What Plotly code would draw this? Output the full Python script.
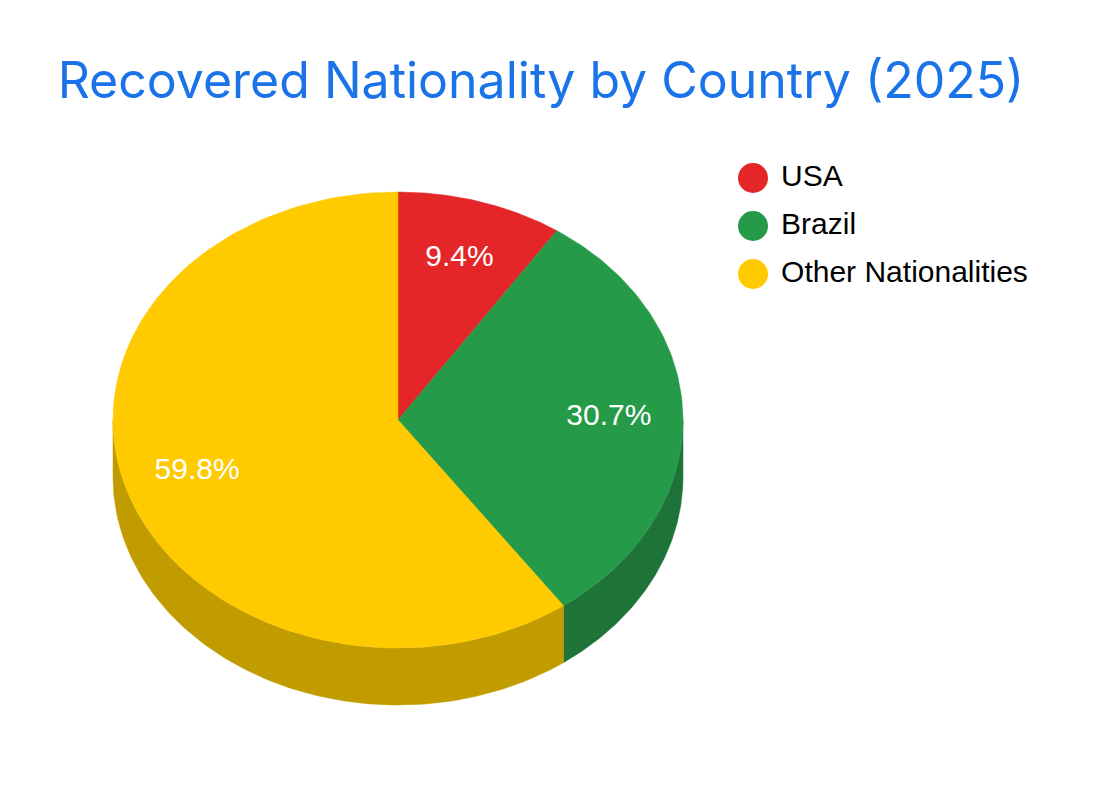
import numpy as np
import plotly.graph_objects as go

# data
countries = ['USA', 'Brazil', 'Other Nationalities']
shares = [9.4, 30.7, 59.8]
top_colors = ['#E52629', '#259A49', '#FFCB00']
side_colors = ['#A81C1E', '#1E7438', '#C19C00']

W, H = 1106, 788
OFF = 8                # page body margin, so axis units equal page pixels
cx, cy = 398, 420      # centre of the top face (px)
rx, ry = 285, 228      # ellipse radii
depth = 57             # thickness of the pie


def ellipse_pts(a0, a1, dy=0, n=120):
    # angles in degrees, clockwise from 12 o'clock
    t = np.radians(np.linspace(a0, a1, n))
    return cx + rx * np.sin(t), cy - ry * np.cos(t) + dy


fig = go.Figure()

total = sum(shares)
bounds = np.concatenate([[0], np.cumsum(shares) / total * 360])

# side walls (only the front half, 90..270 deg, is visible)
for i, c in enumerate(countries):
    a0, a1 = max(bounds[i], 90), min(bounds[i + 1], 270)
    if a1 <= a0:
        continue
    xt, yt = ellipse_pts(a0, a1)
    xb, yb = ellipse_pts(a1, a0, dy=depth)
    fig.add_trace(go.Scatter(
        x=np.concatenate([xt, xb, xt[:1]]), y=np.concatenate([yt, yb, yt[:1]]),
        fill='toself', fillcolor=side_colors[i], mode='lines',
        line=dict(width=0.5, color=side_colors[i]), hoverinfo='skip', showlegend=False))

# top faces
for i, c in enumerate(countries):
    xs, ys = ellipse_pts(bounds[i], bounds[i + 1])
    fig.add_trace(go.Scatter(
        x=np.concatenate([[cx], xs, [cx]]), y=np.concatenate([[cy], ys, [cy]]),
        fill='toself', fillcolor=top_colors[i], mode='lines',
        line=dict(width=0.5, color=top_colors[i]), name=c,
        hovertemplate=f'{c}: {shares[i]}%<extra></extra>', showlegend=False))

# slice labels
mid = (bounds[:-1] + bounds[1:]) / 2
lx = cx + 0.74 * rx * np.sin(np.radians(mid))
ly = cy - 0.74 * ry * np.cos(np.radians(mid))
fig.add_trace(go.Scatter(
    x=lx, y=ly, mode='text', text=[f'{s}%' for s in shares],
    textfont=dict(family='Liberation Sans, Arial', size=30, color='white'),
    hoverinfo='skip', showlegend=False))

# legend
leg_x, leg_y, leg_step = 753, 178, 48
fig.add_trace(go.Scatter(
    x=[leg_x] * len(countries), y=[leg_y + k * leg_step for k in range(len(countries))],
    mode='markers+text', text=[' ' + c for c in countries], textposition='middle right',
    marker=dict(size=30, color=top_colors, symbol='circle'),
    textfont=dict(family='Liberation Sans, Arial', size=30, color='black'),
    hoverinfo='skip', showlegend=False))

fig.update_layout(
    width=W, height=H,
    margin=dict(l=0, r=0, t=0, b=0),
    paper_bgcolor='white', plot_bgcolor='white',
    title=dict(text='Recovered Nationality by Country (2025)', x=(541 - OFF) / W, xanchor='center',
               y=1 - (80 - OFF) / H, yanchor='middle',
               font=dict(family='Inter, Lato, sans-serif', size=50, color='#1A73E8')),
    xaxis=dict(range=[OFF, W + OFF], visible=False, fixedrange=True),
    yaxis=dict(range=[H + OFF, OFF], visible=False, fixedrange=True),
)

fig.write_html('out.html')
